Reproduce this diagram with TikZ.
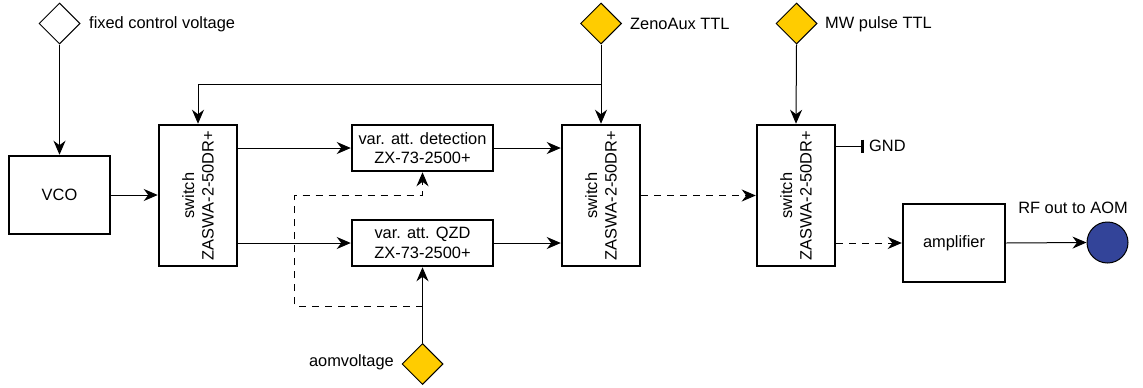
\documentclass[tikz,border=0pt]{standalone}
\usepackage{fontspec}
\setmainfont{Liberation Sans}
\usepackage{tikz}
\usetikzlibrary{shapes.geometric, arrows.meta, positioning, calc}
\definecolor{ttlyellow}{HTML}{FFCC00}
\definecolor{aomblue}{HTML}{334499}

\tikzset{
  block/.style={draw=black, line width=2.5pt, fill=white, inner sep=0pt, align=center, font=\fontsize{16.4}{19.5}\selectfont},
  switchbox/.style={block, minimum width=78pt, minimum height=141pt,
    label={[rotate=90, align=center, font=\fontsize{16.4}{19.5}\selectfont]center:switch\\ZASWA-2-50DR+}},
  attbox/.style={block, minimum width=141pt, minimum height=46pt},
  signal/.style={diamond, draw=black, line width=1pt, inner sep=0pt, minimum width=41pt, minimum height=41pt},
  tag/.style={font=\fontsize{16.4}{19.5}\selectfont, inner sep=0pt},
  wire/.style={line width=1pt, -{Stealth[length=14pt, width=12pt, inset=4.5pt]}},
  dashwire/.style={wire, dash pattern=on 7pt off 6pt},
}

\begin{document}
\begin{tikzpicture}[x=1pt, y=-1pt]
  \useasboundingbox (0,0) rectangle (1143,388);

  % Control inputs
  \node[signal, fill=white] (fcv) at (59.5,23.5) {};
  \node[tag, anchor=west] (fcvlabel) at (89,24) {fixed control voltage};
  \node[signal, fill=ttlyellow] (zeno) at (601,23.5) {};
  \node[tag, anchor=west] (zenolabel) at (630,24) {ZenoAux TTL};
  \node[signal, fill=ttlyellow] (mw) at (796.5,23.5) {};
  \node[tag, anchor=west] (mwlabel) at (825,24) {MW pulse TTL};
  \node[signal, fill=ttlyellow] (aom) at (422.5,364) {};
  \node[tag, anchor=east] (aomlabel) at (394,362) {aomvoltage};

  % RF chain
  \node[block, minimum width=101pt, minimum height=78pt] (vco) at (59.5,195) {VCO};
  \node[switchbox] (sw1) at (198,195.5) {};
  \node[attbox] (det) at (422.5,148) {var. att. detection\\ZX-73-2500+};
  \node[attbox] (qzd) at (422.5,243) {var. att. QZD\\ZX-73-2500+};
  \node[switchbox] (sw2) at (601,195.5) {};
  \node[switchbox] (sw3) at (796,195.5) {};
  \node[block, minimum width=102pt, minimum height=78pt] (amp) at (954,243) {amplifier};
  \node[circle, draw=black, line width=1pt, fill=aomblue, minimum size=41pt, inner sep=0pt] (rf) at (1107.5,242.5) {};
  \node[tag] (rflabel) at (1073,208) {RF out to AOM};

  % Junction points
  \coordinate (zjoin) at (601,84);
  \coordinate (aomjoin) at (422.5,306);
  \coordinate (dcorner) at (294.5,195);
  \coordinate (gnd) at (864,146);
  \node[tag, anchor=west] (gndlabel) at (869,146) {GND};

  % Solid signal lines
  \draw[wire] (fcv.south) -- (vco.north);
  \draw[wire] (vco.east) -- (vco.east -| sw1.west);
  \draw[wire] (sw1.east |- det.west) -- (det.west);
  \draw[wire] (sw1.east |- qzd.west) -- (qzd.west);
  \draw[wire] (det.east) -- (det.east -| sw2.west);
  \draw[wire] (qzd.east) -- (qzd.east -| sw2.west);
  \draw[wire] (zeno.south) -- (sw2.north);
  \draw[wire] (zjoin) -| (sw1.north);
  \draw[wire] (mw.south) -- (sw3.north);
  \draw[wire] (aom.north) -- (qzd.south);
  \draw[wire] (amp.east) -- (rf.west);
  \draw[line width=1pt, -{Bar[width=13pt, line width=3pt]}] (sw3.east |- gnd) -- (gnd);

  % Dashed lines
  \draw[dashwire] (sw2.east) -- (sw3.west);
  \draw[dashwire] (sw3.east |- amp.west) -- (amp.west);
  \draw[dashwire] (aomjoin) -| (dcorner) -| (det.south);
\end{tikzpicture}
\end{document}
